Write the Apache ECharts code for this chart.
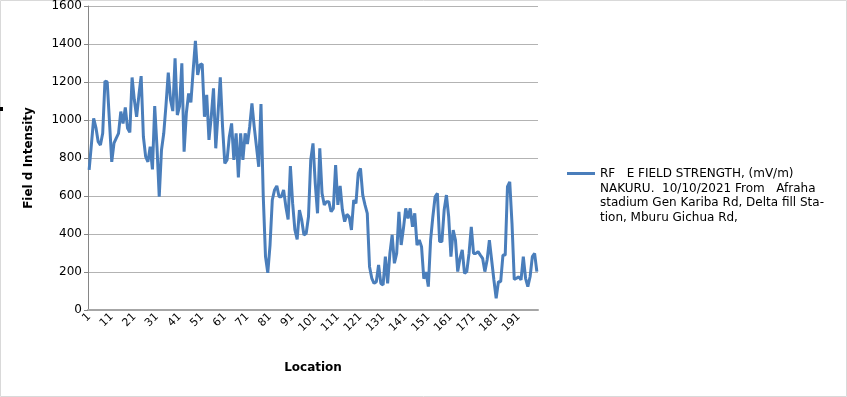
<!DOCTYPE html>
<html>
<head>
<meta charset="utf-8">
<script src="https://cdn.jsdelivr.net/npm/echarts@6/dist/echarts.min.js"></script>
<style>
  html, body { margin: 0; padding: 0; background: #fff; }
  #chart { width: 847px; height: 397px; }
</style>
</head>
<body>
<div id="chart"></div>
<script>
// Field strength readings, one per location
var fieldValues = [
  737, 870, 1009, 960, 886, 868, 930, 1205, 1200, 990,
  780, 878, 905, 930, 1044, 982, 1066, 956, 935, 1224,
  1105, 1017, 1130, 1231, 912, 807, 780, 860, 740, 1073,
  860, 596, 842, 930, 1080, 1249, 1105, 1047, 1325, 1026,
  1073, 1298, 833, 1037, 1140, 1093, 1260, 1417, 1237, 1290,
  1295, 1017, 1132, 895, 1017, 1167, 851, 1035, 1224, 965,
  772, 790, 912, 982, 790, 930, 698, 930, 790, 930,
  874, 965, 1088, 965, 860, 754, 1084, 600, 281, 196,
  342, 579, 632, 653, 596, 596, 632, 544, 477, 758,
  561, 421, 372, 526, 474, 395, 404, 491, 790, 877,
  667, 509, 851, 614, 553, 570, 570, 517, 535, 763,
  553, 653, 526, 465, 503, 491, 421, 579, 561, 719,
  746, 605, 553, 509, 228, 167, 140, 149, 237, 140,
  132, 281, 140, 298, 395, 246, 298, 517, 342, 430,
  535, 482, 535, 438, 509, 342, 368, 333, 165, 200,
  123, 368, 491, 596, 614, 360, 360, 526, 605, 491,
  281, 421, 368, 202, 272, 316, 193, 202, 298, 438,
  298, 298, 307, 289, 272, 202, 263, 368, 263, 158,
  61, 149, 149, 289, 289, 649, 675, 456, 161, 167,
  175, 158, 281, 167, 123, 175, 281, 298, 202
];

var locations = fieldValues.map(function (v, i) { return String(i + 1); });

var seriesName = 'RF   E FIELD STRENGTH, (mV/m)\nNAKURU.  10/10/2021 From   Afraha\nstadium Gen Kariba Rd, Delta fill Sta-\ntion, Mburu Gichua Rd,';

var chart = echarts.init(document.getElementById('chart'));

chart.setOption({
  animation: false,
  textStyle: { fontFamily: 'DejaVu Sans' },
  graphic: [
    {
      type: 'rect',
      shape: { x: 0.5, y: 0.5, width: 846, height: 396 },
      style: { fill: 'none', stroke: '#d9d9d9', lineWidth: 1 }
    },
    {
      type: 'rect',
      shape: { x: 0, y: 107, width: 3, height: 4 },
      style: { fill: '#000' }
    },
    // legend swatch sits beside the first text line, as in the original
    {
      type: 'line',
      shape: { x1: 567, y1: 173.5, x2: 595, y2: 173.5 },
      style: { stroke: '#4a7ebb', lineWidth: 3 }
    }
  ],
  legend: {
    left: 562,
    top: 162,
    itemWidth: 28,
    itemHeight: 3,
    itemGap: 5,
    icon: 'none',
    data: [seriesName],
    textStyle: {
      fontSize: 12,
      color: '#000',
      lineHeight: 14.5
    }
  },
  grid: {
    left: 88,
    right: 309,
    top: 6,
    bottom: 87
  },
  xAxis: {
    type: 'category',
    data: locations,
    boundaryGap: true,
    name: 'Location',
    nameLocation: 'middle',
    nameGap: 52,
    nameTextStyle: { fontWeight: 'bold', fontSize: 12, color: '#000' },
    axisLine: { lineStyle: { color: '#a6a6a6', width: 2 } },
    axisTick: { show: false },
    axisLabel: {
      interval: 9,
      rotate: 45,
      fontSize: 11,
      color: '#000',
      margin: 5
    }
  },
  yAxis: {
    type: 'value',
    min: 0,
    max: 1600,
    interval: 200,
    name: 'Fiel d Intensity',
    nameLocation: 'middle',
    nameRotate: 90,
    nameGap: 53,
    nameTextStyle: { fontWeight: 'bold', fontSize: 12, color: '#000' },
    axisLine: { show: true, lineStyle: { color: '#868686', width: 1 } },
    axisTick: { show: true, length: 4, lineStyle: { color: '#868686' } },
    axisLabel: {
      fontSize: 12,
      color: '#000',
      margin: 6,
      formatter: function (v) { return String(v); }
    },
    splitLine: { lineStyle: { color: '#b3b3b3', width: 1 } }
  },
  series: [{
    name: seriesName,
    type: 'line',
    data: fieldValues,
    showSymbol: false,
    symbol: 'none',
    lineStyle: { color: '#4a7ebb', width: 3 },
    itemStyle: { color: '#4a7ebb' }
  }]
});
</script>
</body>
</html>
